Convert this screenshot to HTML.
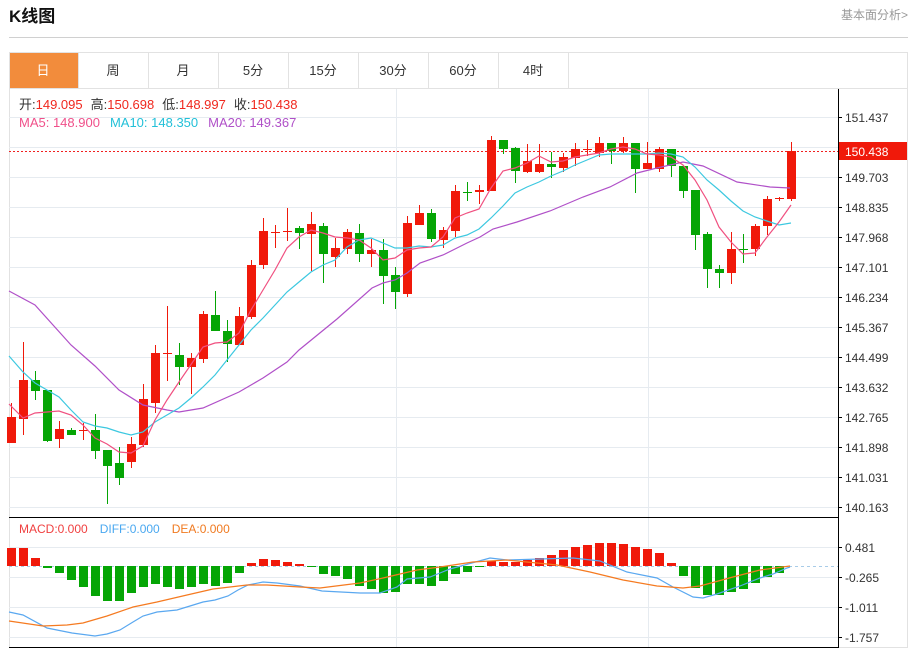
<!DOCTYPE html>
<html><head><meta charset="utf-8"><style>
body{margin:0;background:#fff;width:917px;height:650px;overflow:hidden;font-family:"Liberation Sans","Noto Sans CJK SC",sans-serif;}
svg{position:absolute;left:0;top:0}
</style></head><body>
<svg width="917" height="650" xmlns="http://www.w3.org/2000/svg" font-family="Liberation Sans, Noto Sans CJK SC, sans-serif">
<text x="9" y="22" font-size="17" font-weight="bold" fill="#111">K线图</text>
<text x="908" y="19" font-size="12" fill="#999" text-anchor="end">基本面分析&gt;</text>
<line x1="9" y1="37.5" x2="908" y2="37.5" stroke="#d0d0d0"/>
<!-- frame -->
<rect x="9.5" y="52.5" width="898" height="595" fill="none" stroke="#e2e2e2"/>
<line x1="9" y1="88.5" x2="908" y2="88.5" stroke="#e2e2e2"/>
<rect x="10" y="53" width="68" height="35" fill="#f28c3c"/>
<g stroke="#e2e2e2">
<line x1="78.5" y1="53" x2="78.5" y2="88"/><line x1="148.5" y1="53" x2="148.5" y2="88"/><line x1="218.5" y1="53" x2="218.5" y2="88"/><line x1="288.5" y1="53" x2="288.5" y2="88"/><line x1="358.5" y1="53" x2="358.5" y2="88"/><line x1="428.5" y1="53" x2="428.5" y2="88"/><line x1="498.5" y1="53" x2="498.5" y2="88"/><line x1="568.5" y1="53" x2="568.5" y2="88"/>
</g>
<g font-size="13" text-anchor="middle" fill="#333">
<text x="43" y="75" fill="#fff">日</text><text x="113" y="75">周</text><text x="183" y="75">月</text><text x="253" y="75">5分</text><text x="323" y="75">15分</text><text x="393" y="75">30分</text><text x="463" y="75">60分</text><text x="533" y="75">4时</text>
</g>
<!-- grid -->
<g stroke="#e6ebf0">
<line x1="9" y1="117.5" x2="838" y2="117.5"/><line x1="9" y1="147.5" x2="838" y2="147.5"/><line x1="9" y1="177.5" x2="838" y2="177.5"/><line x1="9" y1="207.5" x2="838" y2="207.5"/><line x1="9" y1="237.5" x2="838" y2="237.5"/><line x1="9" y1="267.5" x2="838" y2="267.5"/><line x1="9" y1="297.5" x2="838" y2="297.5"/><line x1="9" y1="327.5" x2="838" y2="327.5"/><line x1="9" y1="357.5" x2="838" y2="357.5"/><line x1="9" y1="387.5" x2="838" y2="387.5"/><line x1="9" y1="417.5" x2="838" y2="417.5"/><line x1="9" y1="447.5" x2="838" y2="447.5"/><line x1="9" y1="477.5" x2="838" y2="477.5"/><line x1="9" y1="507.5" x2="838" y2="507.5"/>
<line x1="9" y1="547.5" x2="838" y2="547.5"/><line x1="9" y1="577.5" x2="838" y2="577.5"/><line x1="9" y1="607.5" x2="838" y2="607.5"/><line x1="9" y1="637.5" x2="838" y2="637.5"/>
<line x1="396.5" y1="89" x2="396.5" y2="648"/><line x1="648.5" y1="89" x2="648.5" y2="648"/>
</g>
<line x1="9" y1="517.5" x2="838" y2="517.5" stroke="#000"/>
<line x1="9" y1="647.5" x2="838" y2="647.5" stroke="#000"/>
<line x1="838.5" y1="89" x2="838.5" y2="648" stroke="#000"/>
<!-- info -->
<g font-size="13">
<text x="19" y="109"><tspan fill="#333">开:</tspan><tspan fill="#f0281e">149.095</tspan><tspan fill="#333" dx="8">高:</tspan><tspan fill="#f0281e">150.698</tspan><tspan fill="#333" dx="8">低:</tspan><tspan fill="#f0281e">148.997</tspan><tspan fill="#333" dx="8">收:</tspan><tspan fill="#f0281e">150.438</tspan></text>
<text x="19" y="127"><tspan fill="#f0508a">MA5: 148.900</tspan><tspan fill="#22c0d8" dx="10">MA10: 148.350</tspan><tspan fill="#b050c8" dx="10">MA20: 149.367</tspan></text>
</g>
<text x="19" y="533" font-size="12"><tspan fill="#f04040">MACD:0.000</tspan><tspan fill="#4aa8f0" dx="12">DIFF:0.000</tspan><tspan fill="#f07a20" dx="12">DEA:0.000</tspan></text>
<!-- axis labels -->
<g font-size="12" fill="#333">
<g stroke="#000"><line x1="838" y1="117.5" x2="842" y2="117.5"/><line x1="838" y1="177.5" x2="842" y2="177.5"/><line x1="838" y1="207.5" x2="842" y2="207.5"/><line x1="838" y1="237.5" x2="842" y2="237.5"/><line x1="838" y1="267.5" x2="842" y2="267.5"/><line x1="838" y1="297.5" x2="842" y2="297.5"/><line x1="838" y1="327.5" x2="842" y2="327.5"/><line x1="838" y1="357.5" x2="842" y2="357.5"/><line x1="838" y1="387.5" x2="842" y2="387.5"/><line x1="838" y1="417.5" x2="842" y2="417.5"/><line x1="838" y1="447.5" x2="842" y2="447.5"/><line x1="838" y1="477.5" x2="842" y2="477.5"/><line x1="838" y1="507.5" x2="842" y2="507.5"/><line x1="838" y1="547.5" x2="842" y2="547.5"/><line x1="838" y1="577.5" x2="842" y2="577.5"/><line x1="838" y1="607.5" x2="842" y2="607.5"/><line x1="838" y1="637.5" x2="842" y2="637.5"/></g>
<text x="845" y="122">151.437</text><text x="845" y="182">149.703</text><text x="845" y="212">148.835</text><text x="845" y="242">147.968</text><text x="845" y="272">147.101</text><text x="845" y="302">146.234</text><text x="845" y="332">145.367</text><text x="845" y="362">144.499</text><text x="845" y="392">143.632</text><text x="845" y="422">142.765</text><text x="845" y="452">141.898</text><text x="845" y="482">141.031</text><text x="845" y="512">140.163</text>
<text x="845" y="552">0.481</text><text x="845" y="582">-0.265</text><text x="845" y="612">-1.011</text><text x="845" y="642">-1.757</text>
</g>
<line x1="9" y1="151.5" x2="838" y2="151.5" stroke="#f02020" stroke-dasharray="2,2"/>
<rect x="839" y="142" width="68" height="18" fill="#f0190a"/>
<text x="845" y="156" font-size="12" fill="#fff">150.438</text>
<line x1="9" y1="566.5" x2="838" y2="566.5" stroke="#a8cce8" stroke-dasharray="3,3"/>
<g id="candles"></g>
<g id="macd"></g>
<!-- MA lines -->
<polyline fill="none" stroke="#b050c8" stroke-width="1.2" points="9,291 35,305 71,345 95,366 119,390 143,405 167,410 179,412 203,408 239,392 263,378 287,362 299,350 337,319 372,288 383,283 395,280 407,273 420,263 443,255 467,243 480,237 493,229 517,222 550,211 583,197 610,187 637,173 657,168 683,162 703,166 737,182 770,187 790,188"/>
<polyline fill="none" stroke="#3cc8e0" stroke-width="1.2" points="9,356 23,372 35,383 47,390 59,397 71,410 83,422 95,426 107,428 119,432 131,435 143,432 155,422 167,415 179,408 191,398 203,387 215,375 227,360 239,345 251,330 263,318 275,305 287,292 299,282 311,272 323,265 335,260 347,247 359,240 371,238 383,243 395,248 407,248 419,246 431,247 443,245 455,238 467,235 479,229 491,218 503,206 515,193 527,187 539,182 551,176 563,171 575,165 587,160 599,155 611,154 623,154 635,154 647,154 659,153 671,154 683,157 695,167 707,180 719,190 731,201 743,211 755,217 767,221 779,225 791,223"/>
<polyline fill="none" stroke="#f05080" stroke-width="1.2" points="9,404 23,418 35,413 59,411 71,415 83,425 95,438 107,444 119,452 131,453 143,446 155,420 167,400 179,382 203,347 215,343 227,342 239,333 251,310 263,290 275,270 287,248 299,237 311,230 323,233 335,237 347,238 359,240 371,248 383,260 395,258 407,250 419,248 431,247 443,237 455,218 467,213 479,209 491,188 503,171 515,168 527,163 539,156 551,162 563,161 575,157 587,155 599,153 611,149 623,147 635,149 647,154 659,155 671,157 683,165 695,180 707,200 719,227 731,242 743,254 755,253 767,237 779,222 791,205"/>
<polyline fill="none" stroke="#5aa8f0" stroke-width="1.2" points="9,612 23,615 47,628 72,633 95,636 107,634 120,630 133,622 143,616 157,612 177,610 190,606 203,602 215,600 228,596 238,590 248,585 263,582 277,583 300,586 322,591 360,593 380,593 397,587 407,579 430,577 440,573 450,569 490,558 507,560 573,558 600,561 627,572 657,578 673,587 693,597 703,598 717,594 740,586 760,578 773,574 787,568 790,567"/>
<polyline fill="none" stroke="#f57a20" stroke-width="1.2" points="9,621 43,626 67,625 83,623 107,616 133,607 157,602 187,595 213,589 247,585 267,585 300,587 320,588 360,583 383,578 417,570 440,567 473,562 507,560 557,565 590,572 623,580 657,586 683,588 700,586 733,577 760,570 790,566"/>
</svg>
<script>
var C=[[417,443,403,443,1],[380,419,342,435,1],[380,391,371,400,0],[390,441,390,442,0],[429,439,421,448,1],[430,435,428,435,0],[430,431,423,440,1],[430,451,414,459,0],[450,466,450,504,0],[463,478,447,485,0],[444,462,437,468,1],[399,445,384,447,1],[353,403,345,413,1],[353,354,306,381,1],[355,367,343,385,0],[358,367,353,394,1],[314,359,311,363,1],[315,331,291,331,0],[331,344,320,362,0],[316,345,307,345,1],[265,317,260,319,1],[231,265,218,269,1],[232,233,225,248,1],[231,232,208,241,1],[228,233,226,249,0],[224,234,212,271,1],[226,254,223,283,0],[248,257,238,267,1],[232,249,229,254,1],[233,254,224,262,0],[250,254,239,267,1],[250,276,239,304,0],[275,292,267,309,0],[223,294,216,297,1],[213,225,205,225,1],[213,239,209,242,0],[230,240,227,248,1],[191,231,185,237,1],[192,193,182,201,0],[190,192,185,204,1],[140,191,136,191,1],[140,149,140,154,0],[148,171,147,183,0],[161,172,144,173,1],[164,172,144,173,1],[164,167,152,178,0],[157,168,153,172,1],[149,158,143,166,1],[149,150,140,156,1],[143,153,137,157,1],[143,151,143,164,0],[143,151,137,153,1],[143,169,143,193,0],[163,169,142,169,1],[149,169,147,172,1],[149,166,149,177,0],[166,191,166,198,0],[190,235,190,250,0],[234,269,232,288,0],[269,273,265,288,0],[249,273,232,284,1],[249,250,234,263,0],[226,249,224,256,1],[199,226,196,235,1],[198,199,197,201,1],[151,199,142,201,1]];
var M=[548,548,558,568,573,580,587,596,601,601,593,587,584,587,589,587,584,586,583,573,563,559,560,562,564,567,574,576,579,586,589,593,592,584,584,586,581,574,572,567,561,562,562,560,558,555,550,547,545,543,543,544,547,549,553,563,576,588,595,595,592,589,583,577,573];
var ns="http://www.w3.org/2000/svg",g=document.getElementById("candles"),h=document.getElementById("macd");
function el(p,t,a){var e=document.createElementNS(ns,t);for(var k in a)e.setAttribute(k,a[k]);p.appendChild(e);}
C.forEach(function(c,i){var x=12*(i+1)-1,col=c[4]?"#f0190a":"#05a505";
el(g,"line",{x1:x+0.5,x2:x+0.5,y1:c[2],y2:c[3],stroke:col});
el(g,"rect",{x:x-4,y:c[0],width:9,height:Math.max(1,c[1]-c[0]),fill:col});});
M.forEach(function(m,i){var x=12*(i+1)-1,up=m<566,col=up?"#f0190a":"#05a505";
el(h,"rect",{x:x-4,y:up?m:566,width:9,height:Math.max(1,Math.abs(m-566)),fill:col});});
</script>
</body></html>
